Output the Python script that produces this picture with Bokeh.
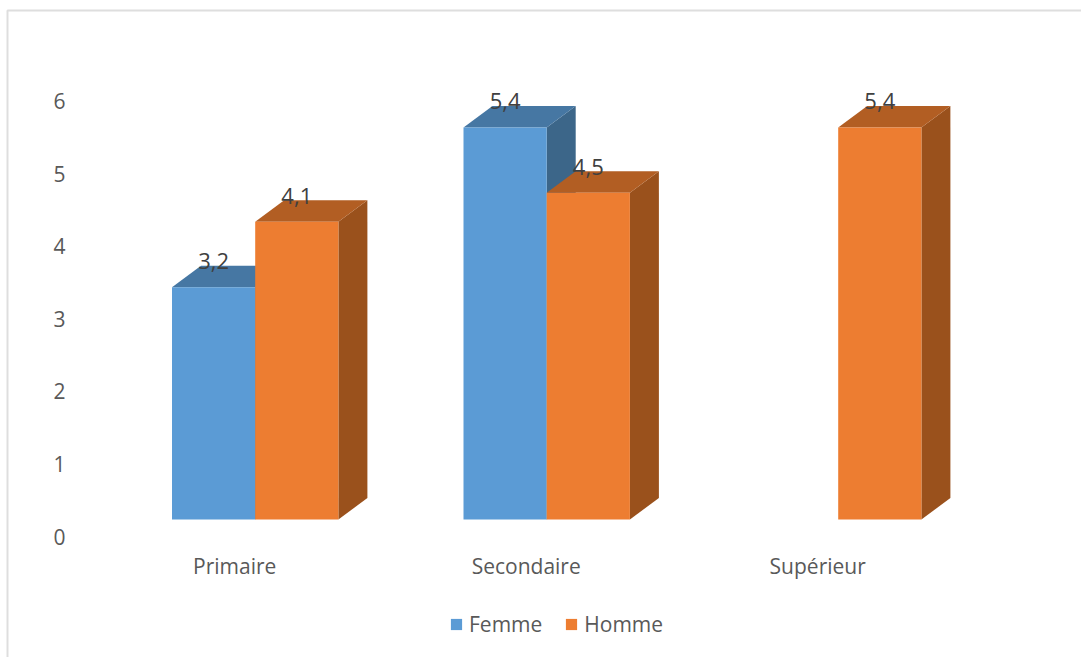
from bokeh.plotting import figure
from bokeh.models import (Range1d, LinearAxis, FixedTicker, Legend, LegendItem,
                          ColumnDataSource, BoxAnnotation)
from bokeh.core.properties import value
from bokeh.embed import file_html
from bokeh.resources import INLINE

categories = ["Primaire", "Secondaire", "Supérieur"]
femme = [3.2, 5.4, None]
homme = [4.1, 4.5, 5.4]
y_ticks = [0, 1, 2, 3, 4, 5, 6]

FONT = "Open Sans"
W, H = 1081, 657
PX_X, PX_Y = 291.5, 72.6        # pixels per unit
BASE_X, BASE_Y = 254.7, 519     # pixel position of x=0 and y=0
BAR_W = 83.2 / PX_X
DX, DY = 29 / PX_X, 21.5 / PX_Y
LABEL_DY = 26 / PX_Y

x0 = (0 - BASE_X) / PX_X
x1 = (W - BASE_X) / PX_X
y0 = (BASE_Y - H) / PX_Y
y1 = (BASE_Y - 0) / PX_Y

p = figure(width=W, height=H, output_backend="svg", toolbar_location=None,
           x_range=Range1d(x0, x1), y_range=Range1d(y0, y1),
           x_axis_location=None, y_axis_location=None,
           min_border=0, outline_line_color=None,
           background_fill_color="white", border_fill_color="white")
p.grid.visible = False

# axes sit on shifted ranges, as the labels of a 3-D chart sit off the bars
shift_y = 17 / PX_Y
shift_x = 20.5 / PX_X
p.extra_y_ranges["ticks"] = Range1d(y0 + shift_y, y1 + shift_y)
p.extra_x_ranges["cats"] = Range1d(x0 + shift_x, x1 + shift_x)

ya = LinearAxis(y_range_name="ticks", ticker=FixedTicker(ticks=y_ticks),
                fixed_location=(76 - BASE_X) / PX_X,
                axis_line_color=None, major_tick_line_color=None, minor_tick_line_color=None,
                major_label_text_font=FONT, major_label_text_font_size="21px",
                major_label_text_color="#595959", major_label_standoff=5)
p.add_layout(ya, "left")

xa = LinearAxis(x_range_name="cats", ticker=FixedTicker(ticks=list(range(len(categories)))),
                fixed_location=(BASE_Y - 537) / PX_Y,
                major_label_overrides={i: c for i, c in enumerate(categories)},
                axis_line_color=None, major_tick_line_color=None, minor_tick_line_color=None,
                major_label_text_font=FONT, major_label_text_font_size="21px",
                major_label_text_color="#595959", major_label_standoff=8)
p.add_layout(xa, "below")


def series(vals, lefts, front, top_c, side_c):
    idx = [i for i, v in enumerate(vals) if v is not None]
    xl = [i + lefts for i in idx]
    xr = [x + BAR_W for x in xl]
    v = [vals[i] for i in idx]
    p.patches([[r, r + DX, r + DX, r] for r in xr],
              [[0, DY, t + DY, t] for t in v], fill_color=side_c, line_color=None)
    p.patches([[l, l + DX, r + DX, r] for l, r in zip(xl, xr)],
              [[t, t + DY, t + DY, t] for t in v], fill_color=top_c, line_color=None)
    return p.vbar(x=[(l + r) / 2 for l, r in zip(xl, xr)], top=v, bottom=0, width=BAR_W,
                  fill_color=front, line_color=None)


r_f = series(femme, -BAR_W, "#5B9BD5", "#4677A3", "#3C6689")
r_h = series(homme, 0, "#ED7D31", "#B25E23", "#9A511C")

lab_x, lab_y, lab_t = [], [], []
for vals, off in ((femme, -BAR_W / 2), (homme, BAR_W / 2)):
    for i, v in enumerate(vals):
        if v is not None:
            lab_x.append(i + off)
            lab_y.append(v + LABEL_DY)
            lab_t.append(str(v).replace(".", ","))
p.text(x="x", y="y", text="t", source=ColumnDataSource(dict(x=lab_x, y=lab_y, t=lab_t)),
       text_font=value(FONT), text_font_size="22px", text_color="#404040",
       text_align="center", text_baseline="middle")

legend = Legend(items=[LegendItem(label="Femme", renderers=[r_f]),
                       LegendItem(label="Homme", renderers=[r_h])],
                orientation="horizontal", location=(449, 19),
                border_line_color=None, background_fill_alpha=0,
                glyph_width=14, glyph_height=14, label_standoff=6, spacing=22,
                label_text_font=FONT, label_text_font_size="21px",
                label_text_color="#595959", padding=0, margin=0)
p.add_layout(legend, "center")

p.add_layout(BoxAnnotation(left=7, right=W + 10, top=10, bottom=H + 10,
                           left_units="canvas", right_units="canvas",
                           top_units="canvas", bottom_units="canvas",
                           fill_alpha=0, line_color="#DEDEDE", line_alpha=1, line_width=2))

open("out.html", "w").write(file_html(p, INLINE))
